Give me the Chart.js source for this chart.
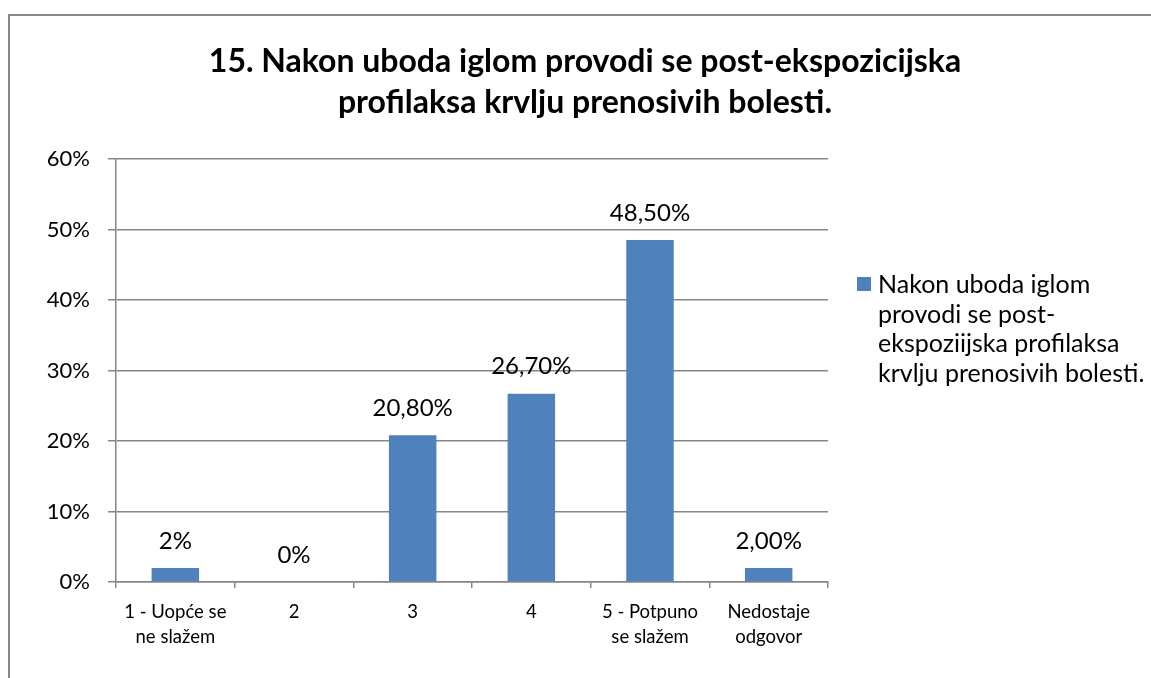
<!DOCTYPE html>
<html>
<head>
<meta charset="utf-8">
<script src="https://cdn.jsdelivr.net/npm/chart.js@4"></script>
<style>
  html, body { margin: 0; padding: 0; background: #fff; }
  #wrap { width: 1151px; height: 678px; position: relative; }
</style>
</head>
<body>
<div id="wrap"><canvas id="chart"></canvas></div>
<script>
const titleLines = [
  "15. Nakon uboda iglom provodi se post-ekspozicijska",
  "profilaksa krvlju prenosivih bolesti."
];
const categories = [
  ["1 - Uopće se", "ne slažem"],
  "2",
  "3",
  "4",
  ["5 - Potpuno", "se slažem"],
  ["Nedostaje", "odgovor"]
];
const values = [2, 0, 20.8, 26.7, 48.5, 2.0];
const valueLabels = ["2%", "0%", "20,80%", "26,70%", "48,50%", "2,00%"];
const seriesName = "Nakon uboda iglom provodi se post-ekspoziijska profilaksa krvlju prenosivih bolesti.";
const legendLines = [
  "Nakon uboda iglom",
  "provodi se post-",
  "ekspoziijska profilaksa",
  "krvlju prenosivih bolesti."
];

const barColor = "#4F81BD";
const lineColor = "#868686";
const fontFam = "Lato, 'Open Sans', sans-serif";

// outer frame of the chart (only top and left visible in the picture)
const framePlugin = {
  id: "frame",
  beforeDraw(chart) {
    const ctx = chart.ctx;
    ctx.save();
    ctx.strokeStyle = lineColor;
    ctx.lineWidth = 2;
    ctx.beginPath();
    ctx.moveTo(9, 678);
    ctx.lineTo(9, 15);
    ctx.lineTo(1151, 15);
    ctx.stroke();
    ctx.restore();
  }
};

// title centred over the whole frame, not just the plot
const titlePlugin = {
  id: "bigTitle",
  afterDraw(chart) {
    const ctx = chart.ctx;
    ctx.save();
    ctx.font = "bold 32px " + fontFam;
    ctx.fillStyle = "#000";
    ctx.textAlign = "center";
    ctx.textBaseline = "middle";
    titleLines.forEach((line, i) => {
      ctx.fillText(line, 585, 62 + i * 41);
    });
    ctx.restore();
  }
};

// value labels above each bar
const valueLabelPlugin = {
  id: "valueLabels",
  afterDatasetsDraw(chart) {
    const ctx = chart.ctx;
    const meta = chart.getDatasetMeta(0);
    ctx.save();
    ctx.font = "24px " + fontFam;
    ctx.fillStyle = "#000";
    ctx.textAlign = "center";
    ctx.textBaseline = "middle";
    meta.data.forEach((bar, i) => {
      ctx.fillText(valueLabels[i], bar.x, bar.y - 27);
    });
    ctx.restore();
  }
};

// legend on the right, wrapped over several lines
const sideLegendPlugin = {
  id: "sideLegend",
  afterDraw(chart) {
    const ctx = chart.ctx;
    const x = chart.chartArea.right + 29;
    const y0 = 285;
    ctx.save();
    ctx.fillStyle = barColor;
    ctx.fillRect(x, y0 - 8, 14, 14);
    ctx.font = "25px " + fontFam;
    ctx.fillStyle = "#000";
    ctx.textAlign = "left";
    ctx.textBaseline = "middle";
    legendLines.forEach((line, i) => {
      ctx.fillText(line, x + 21, y0 + i * 29.5);
    });
    ctx.restore();
  }
};

new Chart(document.getElementById("chart"), {
  type: "bar",
  data: {
    labels: categories,
    datasets: [
      {
        label: seriesName,
        data: values,
        backgroundColor: barColor,
        borderWidth: 0,
        barPercentage: 0.4,
        categoryPercentage: 1.0,
      },
    ],
  },
  options: {
    responsive: true,
    maintainAspectRatio: false,
    animation: false,
    layout: { padding: { left: 0, right: 323, top: 159, bottom: 0 } },
    plugins: {
      legend: { display: false },
      tooltip: { enabled: false },
      title: { display: false },
    },
    scales: {
      x: {
        afterFit: (scale) => { scale.height = 96; },
        grid: {
          offset: true,
          drawOnChartArea: false,
          drawTicks: true,
          tickLength: 6,
          color: lineColor,
          lineWidth: 1.5,
        },
        border: { color: lineColor, width: 1.5 },
        ticks: {
          color: "#000",
          font: { size: 18.5, family: fontFam, lineHeight: 25 / 18.5 },
          padding: 12,
          maxRotation: 0,
          autoSkip: false,
        },
      },
      y: {
        min: 0,
        max: 60,
        afterFit: (scale) => { scale.width = 116; },
        grid: {
          color: lineColor,
          lineWidth: 1.5,
          tickLength: 8,
        },
        border: { color: lineColor, width: 1.5 },
        ticks: {
          stepSize: 10,
          color: "#000",
          padding: 18,
          font: { size: 22, family: fontFam },
          callback: (v) => v + "%",
        },
      },
    },
  },
  plugins: [framePlugin, titlePlugin, valueLabelPlugin, sideLegendPlugin],
});
</script>
</body>
</html>
